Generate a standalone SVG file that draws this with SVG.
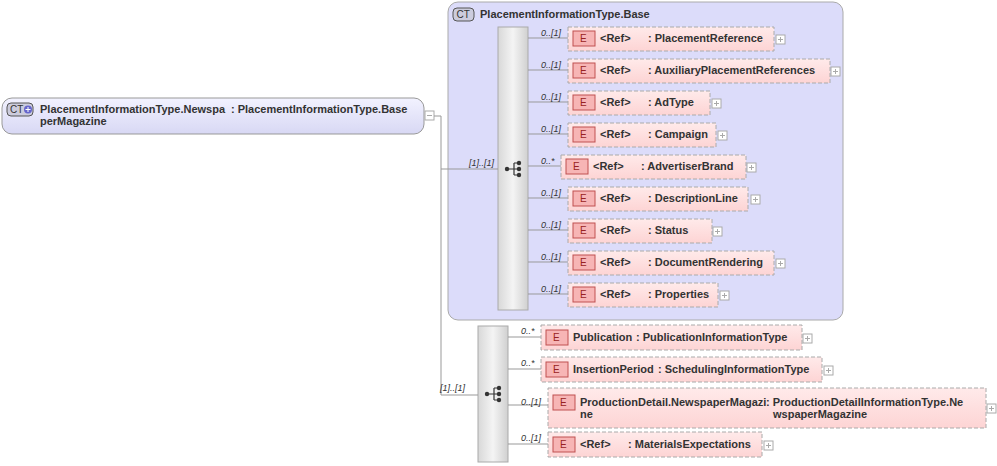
<svg xmlns="http://www.w3.org/2000/svg" width="997" height="466" viewBox="0 0 997 466">
<defs>
<linearGradient id="gr" x1="0" y1="0" x2="1" y2="0"><stop offset="0" stop-color="#d8d8d8"/><stop offset="0.5" stop-color="#f4f4f4"/><stop offset="1" stop-color="#d0d0d0"/></linearGradient>
<linearGradient id="ctg" x1="0" y1="0" x2="0" y2="1"><stop offset="0" stop-color="#f2f2ff"/><stop offset="1" stop-color="#d8d8f4"/></linearGradient>
<linearGradient id="eg" x1="0" y1="0" x2="0" y2="1"><stop offset="0" stop-color="#ffeaea"/><stop offset="1" stop-color="#fdd4d4"/></linearGradient>
<g id="seqicon"><circle cx="-7" cy="0" r="2.2" fill="#333"/><path d="M-5 0H0M0-6V6M0-6H4M0 0H4M0 6H4" stroke="#333" fill="none" stroke-width="1.2"/><circle cx="5" cy="-6" r="2.2" fill="#333"/><circle cx="5" cy="0" r="2.2" fill="#333"/><circle cx="5" cy="6" r="2.2" fill="#333"/></g>
<g id="plus"><rect x="0" y="0" width="9" height="9" fill="#fff" stroke="#aaa"/><path d="M2 4.5H7M4.5 2V7" stroke="#aaa"/></g>
</defs>
<style>
.t{font-family:"Liberation Sans",Arial,sans-serif;font-size:11px;font-weight:bold;fill:#333}
.m{font-family:"Liberation Sans",Arial,sans-serif;font-size:9px;font-style:italic;fill:#333}
.el{fill:url(#eg);stroke:#aaa;stroke-dasharray:4 2}
.ei{fill:#f7b5b5;stroke:#c05050}
.ic{font-family:"Liberation Sans",Arial,sans-serif;font-size:10px;fill:#922}
.ln{stroke:#999;fill:none}
</style>
<g id="base">
<rect x="448" y="2" width="395" height="318" rx="10" fill="#dcdcfa" stroke="#aaa"/>
<rect x="453" y="8" width="21" height="13" rx="4" fill="#ccd" stroke="#555"/>
<text x="456.5" y="18" style="font-family:'Liberation Sans',sans-serif;font-size:10px;fill:#333">CT</text>
<text class="t" x="480" y="18">PlacementInformationType.Base</text>
<rect x="498" y="27" width="30" height="283" fill="url(#gr)" stroke="#aaa"/>
<use href="#seqicon" x="514" y="169"/>
</g>
<g id="root">
<rect x="2" y="98" width="422" height="36" rx="10" fill="url(#ctg)" stroke="#999"/>
<rect x="7" y="103" width="26" height="13" rx="4" fill="#ccd" stroke="#555"/>
<text x="10" y="113" style="font-family:'Liberation Sans',sans-serif;font-size:10px;fill:#333">CT</text>
<circle cx="28" cy="109.5" r="4" fill="#66c"/><path d="M25.5 109.5h5M28 107v5" stroke="#fff"/>
<text class="t" x="40" y="113">PlacementInformationType.Newspa</text>
<text class="t" x="40" y="125">perMagazine</text>
<text class="t" x="231" y="113">: PlacementInformationType.Base</text>
<rect x="425" y="111" width="9" height="9" fill="#fff" stroke="#aaa"/><path d="M427 115.5h5" stroke="#aaa"/>
</g>
<g id="seq2">
<rect x="478" y="326" width="30" height="136" fill="url(#gr)" stroke="#aaa"/>
<use href="#seqicon" x="494" y="394"/>
</g>
<g id="connectors">
<path class="ln" d="M434 116H441V395H478M441 169H498"/>
<text class="m" x="469" y="166">[1]..[1]</text>
<text class="m" x="440" y="391">[1]..[1]</text>
<path class="ln" d="M528 38H568M528 70H568M528 102H568M528 134H568M528 166H561M528 198H568M528 230H568M528 262H568M528 294H568"/>
<path class="ln" d="M508 337H541M508 369H541M508 405H548M508 444H548"/>
</g>
<g id="elements">
<g id="e1"><rect class="el" x="568" y="27" width="206" height="24"/><rect class="ei" x="573" y="31" width="22" height="15"/><text class="ic" x="580" y="42">E</text><text class="t" x="600" y="42">&lt;Ref&gt;</text><text class="t" x="648" y="42">: PlacementReference</text><use href="#plus" x="776" y="35"/><text class="m" x="541" y="36">0..[1]</text></g>
<g id="e2"><rect class="el" x="568" y="59" width="262" height="24"/><rect class="ei" x="573" y="63" width="22" height="15"/><text class="ic" x="580" y="74">E</text><text class="t" x="600" y="74">&lt;Ref&gt;</text><text class="t" x="648" y="74">: AuxiliaryPlacementReferences</text><use href="#plus" x="831" y="67"/><text class="m" x="541" y="68">0..[1]</text></g>
<g id="e3"><rect class="el" x="568" y="91" width="142" height="24"/><rect class="ei" x="573" y="95" width="22" height="15"/><text class="ic" x="580" y="106">E</text><text class="t" x="600" y="106">&lt;Ref&gt;</text><text class="t" x="648" y="106">: AdType</text><use href="#plus" x="712" y="99"/><text class="m" x="541" y="100">0..[1]</text></g>
<g id="e4"><rect class="el" x="568" y="123" width="148" height="24"/><rect class="ei" x="573" y="127" width="22" height="15"/><text class="ic" x="580" y="138">E</text><text class="t" x="600" y="138">&lt;Ref&gt;</text><text class="t" x="648" y="138">: Campaign</text><use href="#plus" x="718" y="131"/><text class="m" x="541" y="132">0..[1]</text></g>
<g id="e5"><rect class="el" x="561" y="155" width="185" height="24"/><rect class="ei" x="566" y="159" width="22" height="15"/><text class="ic" x="573" y="170">E</text><text class="t" x="593" y="170">&lt;Ref&gt;</text><text class="t" x="641" y="170">: AdvertiserBrand</text><use href="#plus" x="747" y="163"/><text class="m" x="541" y="164">0..*</text></g>
<g id="e6"><rect class="el" x="568" y="187" width="180" height="24"/><rect class="ei" x="573" y="191" width="22" height="15"/><text class="ic" x="580" y="202">E</text><text class="t" x="600" y="202">&lt;Ref&gt;</text><text class="t" x="648" y="202">: DescriptionLine</text><use href="#plus" x="751" y="195"/><text class="m" x="541" y="196">0..[1]</text></g>
<g id="e7"><rect class="el" x="568" y="219" width="144" height="24"/><rect class="ei" x="573" y="223" width="22" height="15"/><text class="ic" x="580" y="234">E</text><text class="t" x="600" y="234">&lt;Ref&gt;</text><text class="t" x="648" y="234">: Status</text><use href="#plus" x="713" y="227"/><text class="m" x="541" y="228">0..[1]</text></g>
<g id="e8"><rect class="el" x="568" y="251" width="206" height="24"/><rect class="ei" x="573" y="255" width="22" height="15"/><text class="ic" x="580" y="266">E</text><text class="t" x="600" y="266">&lt;Ref&gt;</text><text class="t" x="648" y="266">: DocumentRendering</text><use href="#plus" x="776" y="259"/><text class="m" x="541" y="260">0..[1]</text></g>
<g id="e9"><rect class="el" x="568" y="283" width="150" height="24"/><rect class="ei" x="573" y="287" width="22" height="15"/><text class="ic" x="580" y="298">E</text><text class="t" x="600" y="298">&lt;Ref&gt;</text><text class="t" x="648" y="298">: Properties</text><use href="#plus" x="720" y="291"/><text class="m" x="541" y="292">0..[1]</text></g>
<g id="e10"><rect class="el" x="541" y="325" width="261" height="25"/><rect class="ei" x="546" y="330" width="22" height="15"/><text class="ic" x="553" y="341">E</text><text class="t" x="573" y="341">Publication</text><text class="t" x="636" y="341">: PublicationInformationType</text><use href="#plus" x="803" y="334"/><text class="m" x="521" y="334">0..*</text></g>
<g id="e11"><rect class="el" x="541" y="357" width="281" height="25"/><rect class="ei" x="546" y="362" width="22" height="15"/><text class="ic" x="553" y="373">E</text><text class="t" x="573" y="373">InsertionPeriod</text><text class="t" x="658" y="373">: SchedulingInformationType</text><use href="#plus" x="824" y="366"/><text class="m" x="521" y="366">0..*</text></g>
<g id="e12"><rect class="el" x="548" y="388" width="438" height="40"/><rect class="ei" x="553" y="395" width="22" height="15"/><text class="ic" x="560" y="406">E</text><text class="t" x="580" y="406">ProductionDetail.NewspaperMagazi</text><text class="t" x="580" y="418">ne</text><text class="t" x="766" y="406">: ProductionDetailInformationType.Ne</text><text class="t" x="773" y="418">wspaperMagazine</text><use href="#plus" x="987" y="404"/><text class="m" x="521" y="405">0..[1]</text></g>
<g id="e13"><rect class="el" x="548" y="432" width="214" height="25"/><rect class="ei" x="553" y="437" width="22" height="15"/><text class="ic" x="560" y="448">E</text><text class="t" x="580" y="448">&lt;Ref&gt;</text><text class="t" x="628" y="448">: MaterialsExpectations</text><use href="#plus" x="764" y="441"/><text class="m" x="521" y="441">0..[1]</text></g>
</g>
</svg>
